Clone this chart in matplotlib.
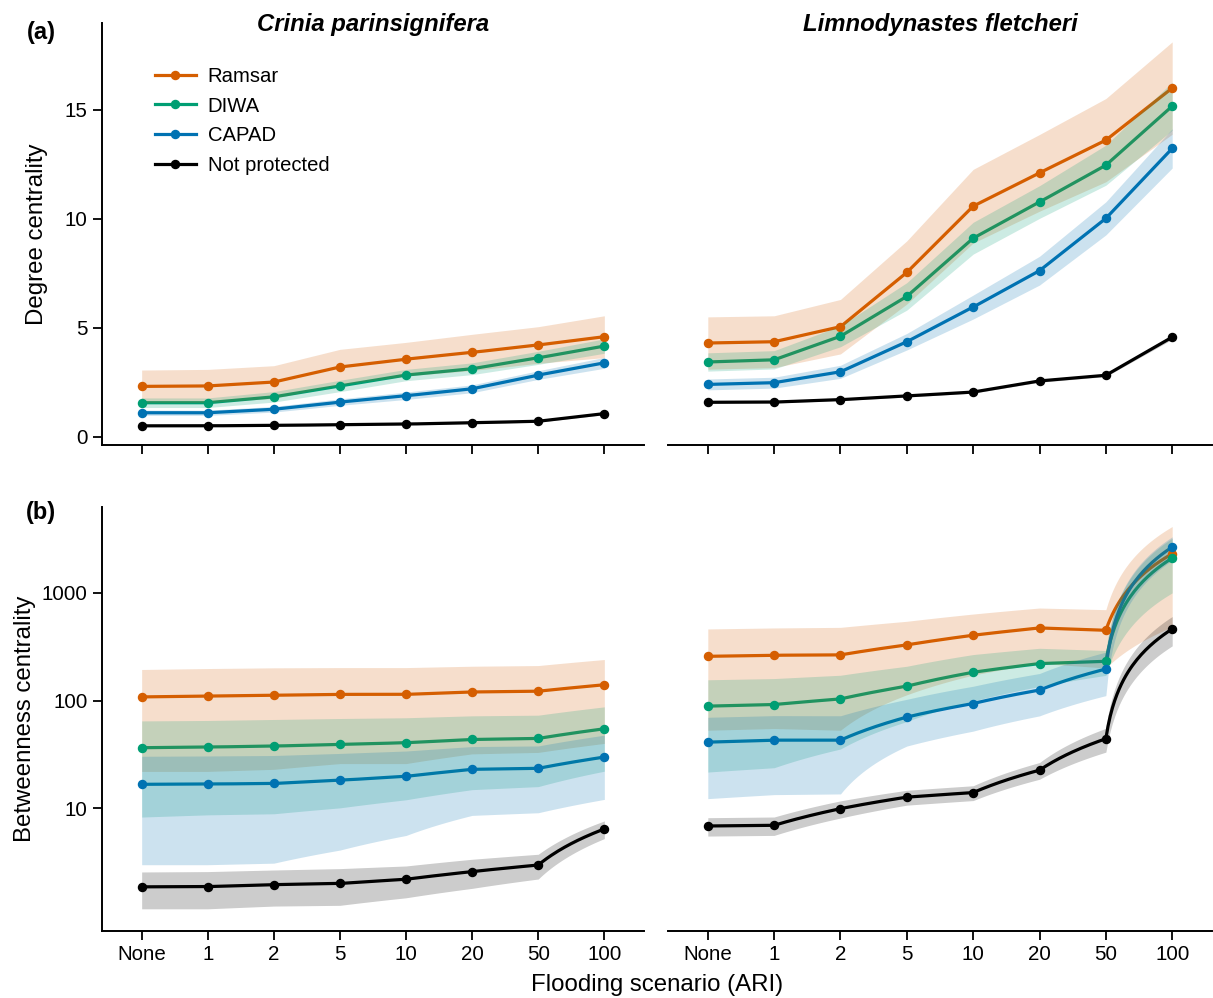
"""Degree and betweenness centrality of wetlands under flooding scenarios (ARI),
for two frog species, split by protection status."""

import matplotlib

matplotlib.use("Agg")
import matplotlib.pyplot as plt
import numpy as np
from matplotlib.lines import Line2D
from matplotlib.path import Path
from matplotlib.ticker import NullLocator

plt.rcParams["font.family"] = ["Liberation Sans", "DejaVu Sans"]

# %% Data (mean and half-width of the ribbon)
scenarios = ["None", "1", "2", "5", "10", "20", "50", "100"]
groups = ["Ramsar", "DIWA", "CAPAD", "Not protected"]
colors = ["#D55E00", "#009E73", "#0072B2", "#000000"]

# (a) degree centrality — Crinia parinsignifera
cp_deg_ramsar = [2.31, 2.33, 2.51, 3.20, 3.56, 3.87, 4.21, 4.59]
cp_deg_ramsar_err = [0.75, 0.76, 0.75, 0.81, 0.77, 0.83, 0.84, 0.96]
cp_deg_diwa = [1.56, 1.56, 1.83, 2.33, 2.83, 3.12, 3.62, 4.16]
cp_deg_diwa_err = [0.22, 0.22, 0.24, 0.26, 0.26, 0.27, 0.30, 0.33]
cp_deg_capad = [1.10, 1.10, 1.26, 1.59, 1.88, 2.20, 2.83, 3.39]
cp_deg_capad_err = [0.12, 0.12, 0.13, 0.15, 0.17, 0.18, 0.20, 0.25]
cp_deg_none = [0.50, 0.50, 0.52, 0.55, 0.58, 0.64, 0.71, 1.06]
cp_deg_none_err = [0.03, 0.03, 0.03, 0.03, 0.03, 0.04, 0.04, 0.05]

# (a) degree centrality — Limnodynastes fletcheri
lf_deg_ramsar = [4.30, 4.36, 5.05, 7.54, 10.58, 12.11, 13.61, 16.00]
lf_deg_ramsar_err = [1.20, 1.19, 1.25, 1.45, 1.69, 1.76, 1.91, 2.12]
lf_deg_diwa = [3.43, 3.53, 4.61, 6.44, 9.11, 10.77, 12.46, 15.17]
lf_deg_diwa_err = [0.42, 0.42, 0.48, 0.63, 0.73, 0.75, 0.92, 1.10]
lf_deg_capad = [2.40, 2.48, 2.98, 4.36, 5.95, 7.62, 10.02, 13.23]
lf_deg_capad_err = [0.25, 0.25, 0.30, 0.38, 0.55, 0.66, 0.76, 0.90]
lf_deg_none = [1.58, 1.59, 1.70, 1.87, 2.05, 2.56, 2.82, 4.57]
lf_deg_none_err = [0.04, 0.04, 0.04, 0.05, 0.05, 0.06, 0.06, 0.10]

# (b) betweenness centrality — Crinia parinsignifera
cp_btw_ramsar = [108, 110, 112, 114, 114, 120, 122, 140]
cp_btw_ramsar_err = [86, 88, 89, 88, 88, 88, 89, 100]
cp_btw_diwa = [36.5, 37.0, 37.8, 39.1, 40.6, 43.5, 44.5, 54.7]
cp_btw_diwa_err = [28.2, 28.3, 28.9, 29.0, 28.6, 28.6, 28.6, 32.6]
cp_btw_capad = [16.7, 16.8, 17.0, 18.2, 19.8, 23.0, 23.5, 29.9]
cp_btw_capad_err = [13.7, 13.8, 13.9, 14.1, 14.2, 14.4, 14.4, 17.8]
cp_btw_none = [1.87, 1.88, 1.96, 2.01, 2.20, 2.59, 2.98, 6.44]
cp_btw_none_err = [0.70, 0.71, 0.72, 0.75, 0.72, 0.78, 0.77, 1.20]

# (b) betweenness centrality — Limnodynastes fletcheri
lf_btw_ramsar = [257, 263, 265, 328, 403, 471, 448, 2296]
lf_btw_ramsar_err = [204, 208, 212, 215, 231, 250, 248, 1815]
lf_btw_diwa = [88.7, 91.8, 103.5, 135.8, 182.8, 220, 231, 2096]
lf_btw_diwa_err = [67, 68, 68, 72, 84, 85, 60, 1100]
lf_btw_capad = [41.1, 42.9, 42.9, 70.2, 93.8, 125, 196, 2650]
lf_btw_capad_err = [28.8, 29.5, 29.3, 32.4, 41.8, 53, 85, 650]
lf_btw_none = [6.86, 6.96, 9.93, 12.7, 14.0, 22.6, 44.2, 461]
lf_btw_none_err = [1.33, 1.35, 1.8, 2.0, 2.2, 4.0, 11, 140]

panels = {
    "tl": [(cp_deg_ramsar, cp_deg_ramsar_err), (cp_deg_diwa, cp_deg_diwa_err),
           (cp_deg_capad, cp_deg_capad_err), (cp_deg_none, cp_deg_none_err)],
    "tr": [(lf_deg_ramsar, lf_deg_ramsar_err), (lf_deg_diwa, lf_deg_diwa_err),
           (lf_deg_capad, lf_deg_capad_err), (lf_deg_none, lf_deg_none_err)],
    "bl": [(cp_btw_ramsar, cp_btw_ramsar_err), (cp_btw_diwa, cp_btw_diwa_err),
           (cp_btw_capad, cp_btw_capad_err), (cp_btw_none, cp_btw_none_err)],
    "br": [(lf_btw_ramsar, lf_btw_ramsar_err), (lf_btw_diwa, lf_btw_diwa_err),
           (lf_btw_capad, lf_btw_capad_err), (lf_btw_none, lf_btw_none_err)],
}

x = np.arange(len(scenarios))
LW, MS = 2.3, 5.8


def munch(xv, yv, steps=30):
    # straight segments in data space, so they bend on the log axis
    v = Path(np.column_stack([xv, yv])).interpolated(steps).vertices
    return v[:, 0], v[:, 1]


def draw(ax, series):
    for (mean, err), c in zip(series, colors):
        mean = np.asarray(mean, float)
        err = np.asarray(err, float)
        xs, ys = munch(x, mean)
        ax.plot(xs, ys, color=c, lw=LW, zorder=2)
        xl, lo = munch(x, mean - err)
        _, hi = munch(x, mean + err)
        ax.fill_between(xl, lo, hi, color=c, alpha=0.2, lw=0, zorder=3)
        ax.plot(x, mean, "o", color=c, ms=MS, zorder=4)


# %% Figure
W, H = 1213, 998
fig = plt.figure(figsize=(W / 100, H / 100), dpi=100)


def px_axes(x0, x1, y0, y1):
    return fig.add_axes([x0 / W, 1 - y1 / H, (x1 - x0) / W, (y1 - y0) / H])


ax_tl = px_axes(102, 644, 22.7, 445)
ax_tr = px_axes(668, 1212, 22.7, 445)
ax_bl = px_axes(102, 644, 507.3, 930.7)
ax_br = px_axes(668, 1212, 507.3, 930.7)

for key, ax in zip(["tl", "tr", "bl", "br"], [ax_tl, ax_tr, ax_bl, ax_br]):
    draw(ax, panels[key])
    ax.set_xlim(-0.6, 7.6)
    ax.set_xticks(x)
    ax.set_xticklabels(scenarios)
    ax.spines[["top", "right"]].set_visible(False)
    for s in ax.spines.values():
        s.set_linewidth(1.4)
    ax.tick_params(direction="out", length=6.5, width=1.3, labelsize=14.8,
                   colors="black", pad=4)

for ax in (ax_tl, ax_tr):
    ax.set_ylim(-0.38, 19.0)
    ax.set_yticks([0, 5, 10, 15])
    ax.tick_params(axis="x", labelbottom=False)

for ax in (ax_bl, ax_br):
    ax.set_yscale("log")
    ax.set_ylim(0.733, 6194)
    ax.set_yticks([10, 100, 1000])
    ax.set_yticklabels(["10", "100", "1000"])
    ax.yaxis.set_minor_locator(NullLocator())

for ax in (ax_tr, ax_br):
    ax.spines["left"].set_visible(False)
    ax.tick_params(axis="y", left=False, labelleft=False)

handles = [Line2D([], [], color=c, lw=LW, marker="o", ms=MS) for c in colors]
ax_tl.legend(handles, groups, loc="upper left", bbox_to_anchor=(53 / 542, 0.895),
             frameon=False, fontsize=14.6, handlelength=2.0, handletextpad=0.6,
             labelspacing=0.52, borderpad=0, borderaxespad=0)

fig.text(373 / W, 1 - 31 / H, "Crinia parinsignifera", ha="center", va="baseline",
         fontsize=17.2, fontweight="bold", fontstyle="italic")
fig.text(940 / W, 1 - 31 / H, "Limnodynastes fletcheri", ha="center", va="baseline",
         fontsize=17.2, fontweight="bold", fontstyle="italic")
fig.text(41 / W, 1 - 33 / H, "(a)", ha="center", va="center", fontsize=17, fontweight="bold")
fig.text(41 / W, 1 - 513 / H, "(b)", ha="center", va="center", fontsize=17, fontweight="bold")
fig.text(37 / W, 1 - 234 / H, "Degree centrality", rotation=90, ha="center",
         va="center", fontsize=17.3)
fig.text(25 / W, 1 - 719 / H, "Betweenness centrality", rotation=90, ha="center",
         va="center", fontsize=17.3)
fig.text(657 / W, 1 - 990.5 / H, "Flooding scenario (ARI)", ha="center",
         va="baseline", fontsize=17.3)

fig.savefig("out.png", dpi=100)
